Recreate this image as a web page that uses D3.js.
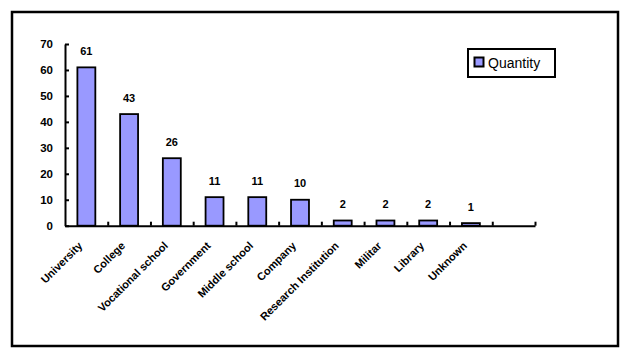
<!DOCTYPE html>
<html>
<head>
<meta charset="utf-8">
<script src="https://cdn.jsdelivr.net/npm/d3@7"></script>
<style>
  body { margin: 0; background: #fff; }
  text { font-family: Arial, "Liberation Sans", sans-serif; }
</style>
</head>
<body>
<div id="graph"></div>
<script>
const categories = ["University", "College", "Vocational school", "Government", "Middle school",
                    "Company", "Research Institution", "Militar", "Library", "Unknown"];
const quantity = [61, 43, 26, 11, 11, 10, 2, 2, 2, 1];
const yTicks = [0, 10, 20, 30, 40, 50, 60, 70];
const seriesName = "Quantity";

const w = 630;
const h = 360;
const plotLeft = 65, plotRight = 535, plotTop = 44, plotBottom = 225.7;
const slots = categories.length + 1; // one empty slot at the end of the axis

const svg = d3.select("#graph")
              .append("svg")
              .attr("width", w)
              .attr("height", h);

// outer frame
svg.append("rect")
   .attr("x", 12).attr("y", 12)
   .attr("width", 606).attr("height", 334)
   .attr("fill", "#fff")
   .attr("stroke", "#000")
   .attr("stroke-width", 2.5);

const xScale = d3.scaleBand()
                 .domain(d3.range(slots))
                 .range([plotLeft, plotRight])
                 .paddingInner(0.58)
                 .paddingOuter(0.29);
const xEdge = d3.scaleLinear().domain([0, slots]).range([plotLeft, plotRight]);
const yScale = d3.scaleLinear().domain([0, 70]).range([plotBottom, plotTop]);

// bars
svg.selectAll("rect.bar")
   .data(quantity)
   .enter()
   .append("rect")
   .attr("class", "bar")
   .attr("x", (d, i) => xScale(i))
   .attr("y", (d) => yScale(d))
   .attr("width", xScale.bandwidth())
   .attr("height", (d) => plotBottom - yScale(d))
   .attr("fill", "#9999FF")
   .attr("stroke", "#000")
   .attr("stroke-width", 1.8);

// value labels
svg.selectAll("text.val")
   .data(quantity)
   .enter()
   .append("text")
   .attr("class", "val")
   .attr("x", (d, i) => xScale(i) + xScale.bandwidth() / 2)
   .attr("y", (d) => yScale(d) - 12.5)
   .attr("text-anchor", "middle")
   .attr("font-size", "11px")
   .attr("font-weight", "bold")
   .text((d) => d);

// y axis
const yAxis = d3.axisLeft(yScale).tickValues(yTicks).tickSizeInner(-4).tickSizeOuter(0).tickPadding(12);
const gy = svg.append("g")
              .attr("id", "y-axis")
              .attr("transform", "translate(" + plotLeft + ", 0)")
              .call(yAxis);
gy.select(".domain").attr("stroke-width", 2);
gy.selectAll(".tick line").attr("stroke-width", 2);
gy.selectAll(".tick text")
  .attr("font-size", "11.5px")
  .attr("font-weight", "bold")
  .attr("font-family", "Arial, 'Liberation Sans', sans-serif");

// x axis with ticks between categories
const xAxis = d3.axisBottom(xEdge).tickValues(d3.range(1, slots + 1)).tickSizeInner(-4).tickSizeOuter(0).tickFormat("");
const gx = svg.append("g")
              .attr("id", "x-axis")
              .attr("transform", "translate(0, " + plotBottom + ")")
              .call(xAxis);
gx.select(".domain").attr("stroke-width", 2);
gx.selectAll(".tick line").attr("stroke-width", 2);

// category labels
svg.selectAll("text.cat")
   .data(categories)
   .enter()
   .append("text")
   .attr("class", "cat")
   .attr("text-anchor", "end")
   .attr("font-size", "11px")
   .attr("font-weight", "bold")
   .attr("transform", (d, i) => "translate(" + (xScale(i) + xScale.bandwidth() / 2 - 6) + "," + (plotBottom + 18) + ") rotate(-45)")
   .attr("dy", "0.35em")
   .text((d) => d);

// legend
const legend = svg.append("g").attr("transform", "translate(468, 49)");
legend.append("rect")
      .attr("width", 87).attr("height", 28)
      .attr("fill", "#fff")
      .attr("stroke", "#000")
      .attr("stroke-width", 2);
legend.append("rect")
      .attr("x", 6.5).attr("y", 8.5)
      .attr("width", 9).attr("height", 9)
      .attr("fill", "#9999FF")
      .attr("stroke", "#000")
      .attr("stroke-width", 2);
legend.append("text")
      .attr("x", 20).attr("y", 19)
      .attr("font-size", "14px")
      .text(seriesName);
</script>
</body>
</html>
